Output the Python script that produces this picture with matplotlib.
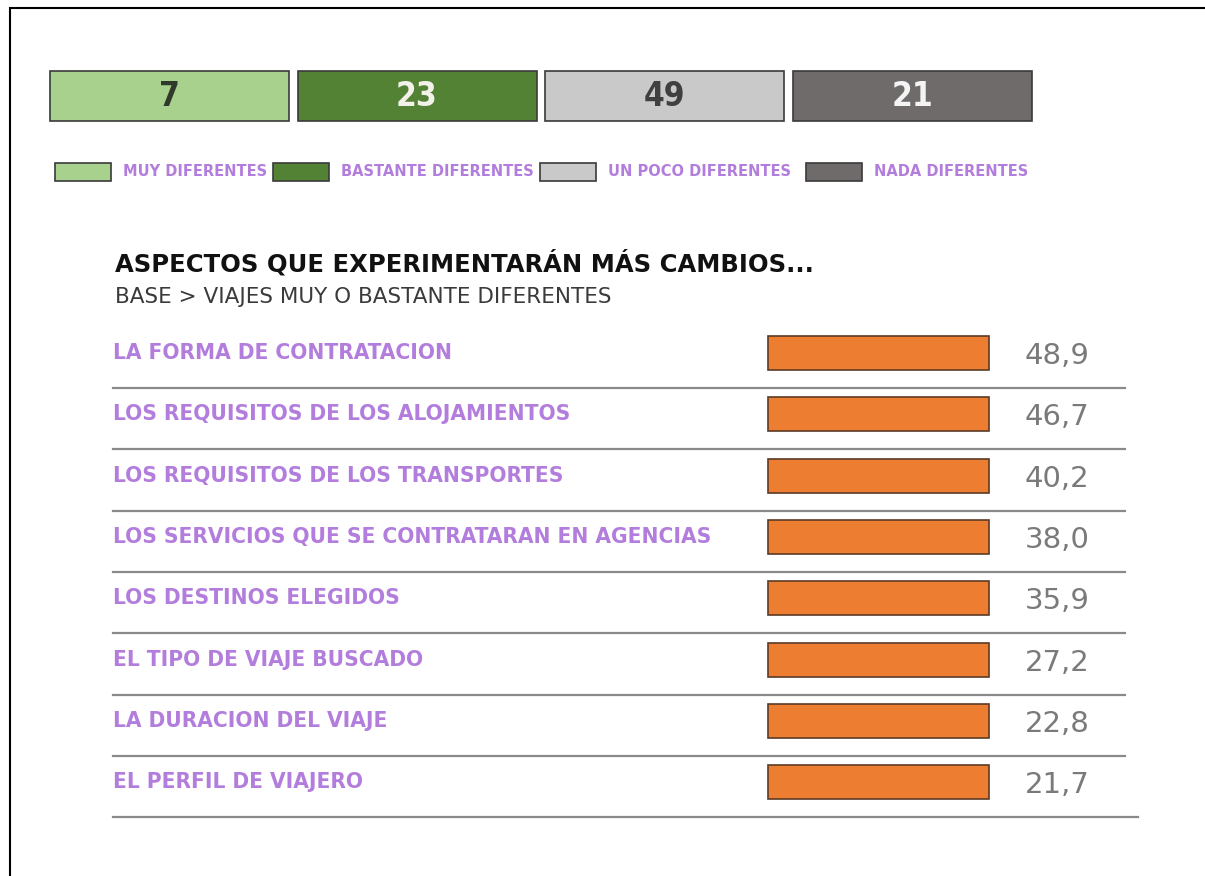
import matplotlib.pyplot as plt
from matplotlib.patches import Rectangle

# top summary boxes
summary_values = [7, 23, 49, 21]
summary_labels = ['MUY DIFERENTES', 'BASTANTE DIFERENTES', 'UN POCO DIFERENTES', 'NADA DIFERENTES']
summary_colors = ['#a9d18e', '#548235', '#c9c9c9', '#6f6b6b']
summary_text_colors = ['#2f3a2a', '#f2f2ea', '#3f3f3f', '#f4f4f4']

# aspects list
aspects = ['LA FORMA DE CONTRATACION',
           'LOS REQUISITOS DE LOS ALOJAMIENTOS',
           'LOS REQUISITOS DE LOS TRANSPORTES',
           'LOS SERVICIOS QUE SE CONTRATARAN EN AGENCIAS',
           'LOS DESTINOS ELEGIDOS',
           'EL TIPO DE VIAJE BUSCADO',
           'LA DURACION DEL VIAJE',
           'EL PERFIL DE VIAJERO']
aspect_values = [48.9, 46.7, 40.2, 38.0, 35.9, 27.2, 22.8, 21.7]

title = 'ASPECTOS QUE EXPERIMENTARÁN MÁS CAMBIOS...'
subtitle = 'BASE > VIAJES MUY O BASTANTE DIFERENTES'

PURPLE = '#b27ddc'

def narrow(size):
    return dict(fontsize=size, fontweight='bold', fontstretch='condensed',
                family='DejaVu Sans')

fig = plt.figure(figsize=(12.05, 8.76), dpi=100)
ax = fig.add_axes([0, 0, 1, 1])
ax.set_xlim(0, 1205)
ax.set_ylim(876, 0)
ax.axis('off')

# frame (top and left only visible)
ax.plot([10, 10, 1205], [876, 8, 8], color='black', lw=1.5, solid_joinstyle='miter')

# summary boxes
box_w, box_gap, box_x0 = 239, 8.5, 50
xs = [box_x0 + i * (box_w + box_gap) for i in range(len(summary_values))]
ax.bar(xs, [50] * 4, width=box_w, bottom=71, align='edge',
       color=summary_colors, edgecolor='#3a3a3a', linewidth=1.2)
for x, v, tc in zip(xs, summary_values, summary_text_colors):
    ax.text(x + box_w / 2, 97, str(v), ha='center', va='center', color=tc, **narrow(24))

# legend
leg_sq_x = [55, 273, 540, 806]
for x, lab, c in zip(leg_sq_x, summary_labels, summary_colors):
    ax.add_patch(Rectangle((x, 163), 56, 18, facecolor=c, edgecolor='#3a3a3a', lw=1.2))
    ax.text(x + 68, 172, lab, ha='left', va='center', color=PURPLE, **narrow(11.7))

# title block
ax.text(115, 263, title, ha='left', va='center', fontsize=17.5, fontweight='bold',
        color='#111111', family='DejaVu Sans')
ax.text(115, 297, subtitle, ha='left', va='center', fontsize=15.5, fontweight='normal',
        color='#3a3a3a', family='DejaVu Sans')

# rows
row_y0, row_step = 353, 61.3
row_y = [row_y0 + i * row_step for i in range(len(aspects))]
ax.barh(row_y, [221] * len(aspects), left=768, height=34, color='#ed7d31',
        edgecolor='#5b3b26', linewidth=1.2)
for i, (y, lab, v) in enumerate(zip(row_y, aspects, aspect_values)):
    ax.text(113, y, lab, ha='left', va='center', color=PURPLE, **narrow(16.2))
    ax.text(1025, y + 3, f'{v:.1f}'.replace('.', ','), ha='left', va='center',
            fontsize=21, color='#7a7a7a', family=['DejaVu Sans'])
    ly = y + 35
    ax.plot([113, 1125 if i < len(aspects) - 1 else 1138], [ly, ly],
            color='#8a8a8a', lw=1.6)

fig.savefig('out.png', dpi=100)
